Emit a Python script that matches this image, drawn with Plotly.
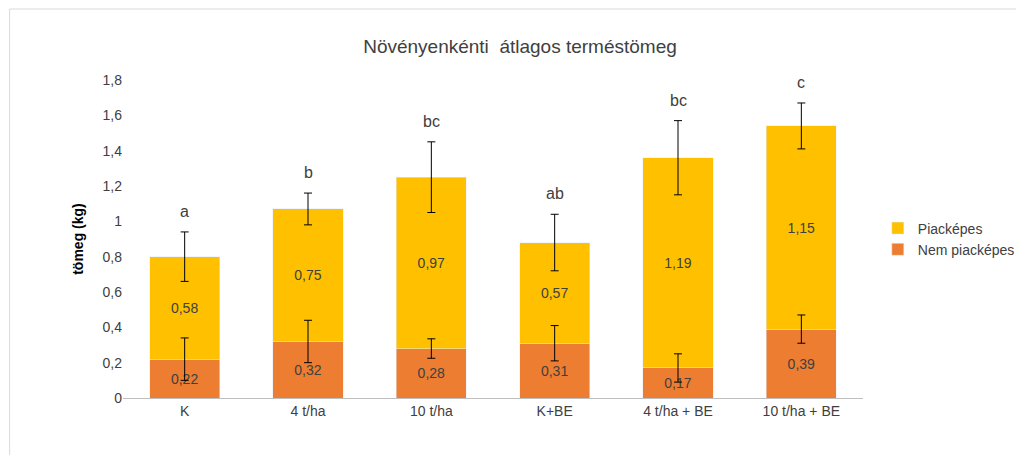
import plotly.graph_objects as go

categories = ["K", "4 t/ha", "10 t/ha", "K+BE", "4 t/ha + BE", "10 t/ha + BE"]
nem = [0.22, 0.32, 0.28, 0.31, 0.17, 0.39]
nem_err = [0.12, 0.12, 0.055, 0.10, 0.08, 0.08]
piac = [0.58, 0.75, 0.97, 0.57, 1.19, 1.15]
total_err = [0.14, 0.09, 0.20, 0.16, 0.21, 0.13]
letters = ["a", "b", "bc", "ab", "bc", "c"]
totals = [a + b for a, b in zip(nem, piac)]

fig = go.Figure()
fig.add_trace(go.Bar(name="Nem piacképes", x=categories, y=nem, marker_color="#ED7D31",
                     text=[f"{v:.2f}".replace(".", ",") for v in nem], textposition="inside",
                     insidetextanchor="middle", textfont=dict(color="#404040", size=14)))
fig.add_trace(go.Bar(name="Piacképes", x=categories, y=piac, marker_color="#FFC000",
                     text=[f"{v:.2f}".replace(".", ",") for v in piac], textposition="inside",
                     insidetextanchor="middle", textfont=dict(color="#404040", size=14)))

# error bars drawn on top of both segments
for ys, errs in [(nem, nem_err), (totals, total_err)]:
    fig.add_trace(go.Scatter(x=categories, y=ys, mode="markers", marker=dict(size=1, opacity=0),
                             showlegend=False, hoverinfo="skip",
                             error_y=dict(type="data", array=errs, color="black", thickness=1, width=4)))

for c, t, e, l in zip(categories, totals, total_err, letters):
    fig.add_annotation(x=c, y=t + e, text=l, showarrow=False, yanchor="bottom", yshift=10,
                       font=dict(size=16, color="#404040"))

L, R, T, B = 115, 165, 72, 65
pw, ph = 1024 - L - R, 455 - T - B
fig.update_layout(
    barmode="stack", bargap=0.43, width=1024, height=455,
    paper_bgcolor="white", plot_bgcolor="white",
    font=dict(family="Liberation Sans, Arial", color="#404040", size=14),
    title=dict(text="Növényenkénti  átlagos terméstömeg", x=0.5, xanchor="center", y=0.93,
               font=dict(size=19, color="#404040")),
    margin=dict(l=L, r=R, t=T, b=B),
    legend=dict(x=1.02, y=0.5, yanchor="middle", traceorder="reversed",
                font=dict(size=14), itemwidth=30),
    separators=",.",
    shapes=[dict(type="rect", xref="paper", yref="paper",
                 x0=-(L - 1) / pw, x1=1 + (R - 2) / pw, y0=-(B - 2) / ph, y1=1 + (T - 1) / ph,
                 line=dict(color="#D9D9D9", width=1))],
)
fig.update_yaxes(range=[0, 1.8], dtick=0.2, showgrid=False, zeroline=False, tickformat=".1~f",
                 title=dict(text="<b>tömeg (kg)</b>", font=dict(size=14, color="black")))
fig.update_xaxes(showline=True, linecolor="#BFBFBF", ticks="")
fig.write_html("out.html")
